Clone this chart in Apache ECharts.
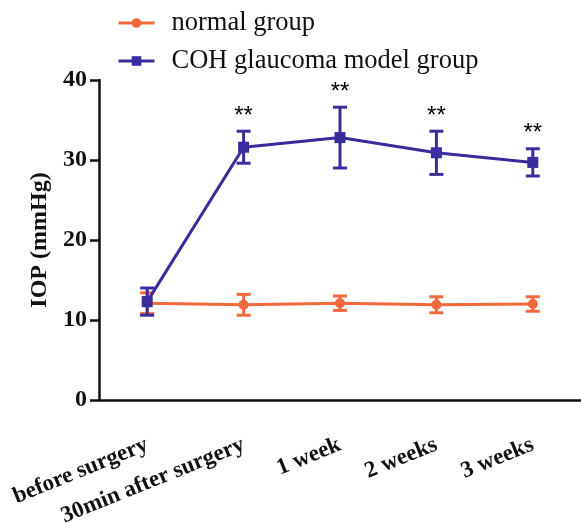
<!DOCTYPE html>
<html>
<head>
<meta charset="utf-8">
<script src="https://cdn.jsdelivr.net/npm/echarts@6/dist/echarts.min.js"></script>
<style>
html,body{margin:0;padding:0;background:#fff;}
#chart{width:581px;height:523px;}
</style>
</head>
<body>
<div id="chart"></div>
<script>
var categories = ['before surgery', '30min after surgery', '1 week', '2 weeks', '3 weeks'];
var normalMean = [12.1, 11.9, 12.1, 11.9, 12.0];
var normalErr = [1.3, 1.3, 0.9, 1.0, 0.9];
var cohMean = [12.3, 31.6, 32.8, 30.9, 29.7];
var cohErr = [1.7, 2.0, 3.8, 2.7, 1.7];
var cohMarks = ['', '**', '**', '**', '**'];
var yTicks = [0, 10, 20, 30, 40];

var ORANGE = '#F26A3C';
var BLUE = '#3A2C9C';
var SERIF = '"Liberation Serif", "Times New Roman", serif';

function errData(mean, err, marks) {
  return mean.map(function (m, i) {
    return [i, m - err[i], m + err[i], marks ? marks[i] : ''];
  });
}

function makeRender(color) {
  return function (params, api) {
    var x = api.value(0);
    var lo = api.coord([x, api.value(1)]);
    var hi = api.coord([x, api.value(2)]);
    var half = 7;
    var style = { stroke: color, lineWidth: 3 };
    var children = [
      { type: 'line', shape: { x1: lo[0], y1: lo[1], x2: hi[0], y2: hi[1] }, style: style },
      { type: 'line', shape: { x1: lo[0] - half, y1: lo[1], x2: lo[0] + half, y2: lo[1] }, style: style },
      { type: 'line', shape: { x1: hi[0] - half, y1: hi[1], x2: hi[0] + half, y2: hi[1] }, style: style }
    ];
    var mark = api.value(3);
    if (mark) {
      children.push({
        type: 'text',
        style: {
          text: String(mark), x: hi[0], y: hi[1] - 3,
          align: 'center', verticalAlign: 'bottom',
          font: '24px "Liberation Sans", Arial, sans-serif', fill: '#000'
        }
      });
    }
    return { type: 'group', children: children };
  };
}

var chart = echarts.init(document.getElementById('chart'), null, { renderer: 'canvas' });
chart.setOption({
  animation: false,
  backgroundColor: '#fff',
  grid: { left: 99, right: 0, top: 80, bottom: 123, containLabel: false, outerBoundsMode: 'none' },
  legend: {
    orient: 'vertical',
    left: 112,
    top: 4,
    itemWidth: 36,
    itemHeight: 12,
    itemGap: 10,
    data: ['normal group', 'COH glaucoma model group'],
    lineStyle: { width: 3 },
    textStyle: { fontFamily: SERIF, fontSize: 26.5, color: '#111', padding: [0, 0, 0, 12], lineHeight: 28 }
  },
  xAxis: {
    type: 'category',
    data: categories,
    boundaryGap: true,
    axisLine: { lineStyle: { color: '#111', width: 2.5 } },
    axisTick: { alignWithLabel: true, length: 9, lineStyle: { color: '#111', width: 2.5 } },
    axisLabel: {
      interval: 0, rotate: 22, margin: 44,
      fontFamily: SERIF, fontWeight: 'bold', fontSize: 23, color: '#111'
    }
  },
  yAxis: {
    type: 'value',
    min: yTicks[0], max: yTicks[yTicks.length - 1], interval: 10,
    name: 'IOP (mmHg)',
    nameLocation: 'middle',
    nameGap: 45,
    nameTextStyle: { fontFamily: SERIF, fontWeight: 'bold', fontSize: 24, color: '#111' },
    axisLine: { show: true, lineStyle: { color: '#111', width: 2.5 } },
    axisTick: { show: true, inside: false, length: 9, lineStyle: { color: '#111', width: 2.5 } },
    axisLabel: { margin: 12, fontFamily: SERIF, fontWeight: 'bold', fontSize: 24, color: '#111' },
    splitLine: { show: false }
  },
  series: [
    {
      type: 'custom', name: 'normal err', z: 2,
      renderItem: makeRender(ORANGE),
      data: errData(normalMean, normalErr),
      encode: { x: 0, y: [1, 2] }
    },
    {
      type: 'line', name: 'normal group', z: 3,
      data: normalMean,
      color: ORANGE,
      symbol: 'circle', symbolSize: 10,
      lineStyle: { width: 3, color: ORANGE },
      itemStyle: { color: ORANGE }
    },
    {
      type: 'custom', name: 'coh err', z: 4,
      renderItem: makeRender(BLUE),
      data: errData(cohMean, cohErr, cohMarks),
      encode: { x: 0, y: [1, 2] }
    },
    {
      type: 'line', name: 'COH glaucoma model group', z: 5,
      data: cohMean,
      color: BLUE,
      symbol: 'rect', symbolSize: 11,
      lineStyle: { width: 3, color: BLUE },
      itemStyle: { color: BLUE }
    }
  ]
});
</script>
</body>
</html>
